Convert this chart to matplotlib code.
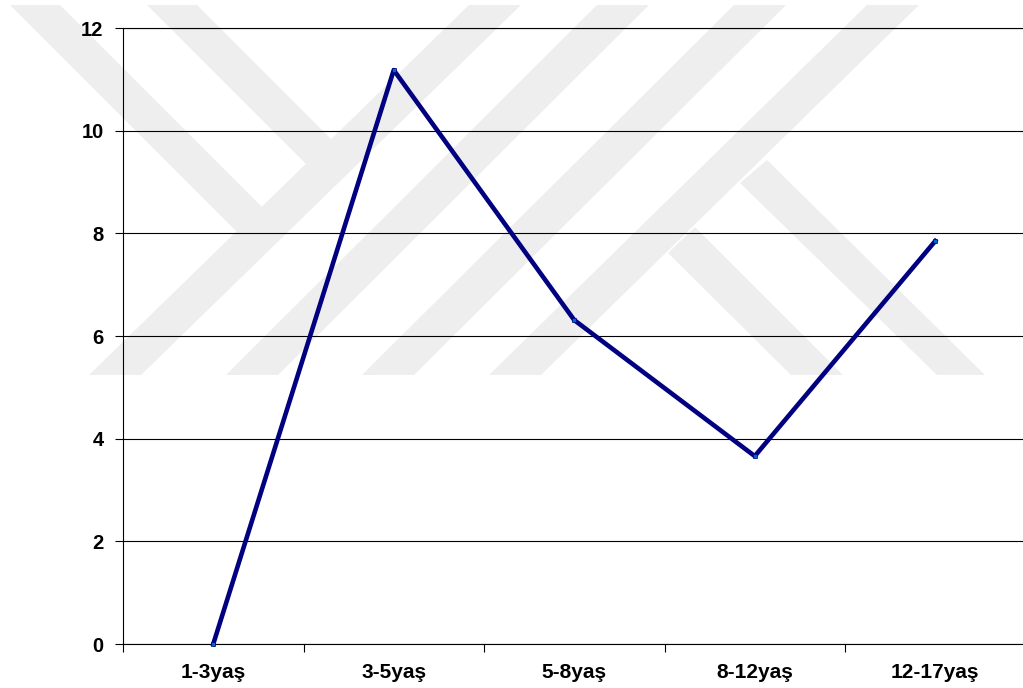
import matplotlib.pyplot as plt
from matplotlib.patches import Polygon

# ---------------- data ----------------
yas_gruplari = ["1-3yaş", "3-5yaş", "5-8yaş", "8-12yaş", "12-17yaş"]
degerler = [0.0, 11.18, 6.31, 3.66, 7.85]
y_ticks = [0, 2, 4, 6, 8, 10, 12]

W, H = 1023, 688
fig = plt.figure(figsize=(W / 100, H / 100), dpi=100)
plt.rcParams['font.family'] = ['Liberation Sans', 'DejaVu Sans']


# faint background watermark (pixel coords of the page, y measured from the top)
def px(points):
    return [(x / W, 1 - y / H) for x, y in points]


bands = []
for top_c, bot_c in [(495, 115), (623, 252), (760, 388), (893, 515)]:
    bands.append([(top_c - 26, 5), (top_c + 26, 5), (bot_c + 26, 375), (bot_c - 26, 375)])
bands.append([(10, 5), (60, 5), (263, 208), (237, 232)])
bands.append([(147, 5), (197, 5), (332, 140), (307, 165)])
bands.append([(668, 253), (695, 227), (843, 375), (791, 375)])
bands.append([(740, 183), (767, 160), (985, 375), (937, 375)])
for b in bands:
    fig.patches.append(Polygon(px(b), closed=True, transform=fig.transFigure,
                               facecolor='#eeeeee', edgecolor='none', zorder=-1))

# ---------------- chart ----------------
ax = fig.add_axes([123 / W, 44 / H, 902.5 / W, 616 / H])
ax.set_facecolor('none')

x = list(range(len(yas_gruplari)))
ax.plot(x, degerler, color='#000080', linewidth=3.3, marker='s', markersize=3.5,
        markerfacecolor='#0066cc', markeredgecolor='#000080', markeredgewidth=0.5,
        zorder=3, clip_on=False)

ax.set_xlim(-0.5, len(yas_gruplari) - 0.5)
ax.set_ylim(0, 12)
ax.set_yticks(y_ticks)
ax.set_yticklabels([str(v) for v in y_ticks], fontsize=14.5, fontweight='bold')
ax.set_xticks(x)
ax.set_xticklabels(yas_gruplari, fontsize=15, fontweight='bold')
ax.tick_params(axis='x', length=0, pad=14)
ax.set_xticks([i - 0.5 for i in range(len(yas_gruplari) + 1)], minor=True)
ax.tick_params(axis='x', which='minor', length=6, width=0.8, color='black', direction='out')
ax.tick_params(axis='y', length=6, width=0.8, color='black', direction='out', pad=8)

ax.yaxis.grid(True, color='black', linewidth=0.8)
ax.set_axisbelow(True)
for s in ['right']:
    ax.spines[s].set_visible(False)
for s in ['left', 'bottom', 'top']:
    ax.spines[s].set_color('black')
    ax.spines[s].set_linewidth(0.8)

fig.savefig('out.png', dpi=100)
